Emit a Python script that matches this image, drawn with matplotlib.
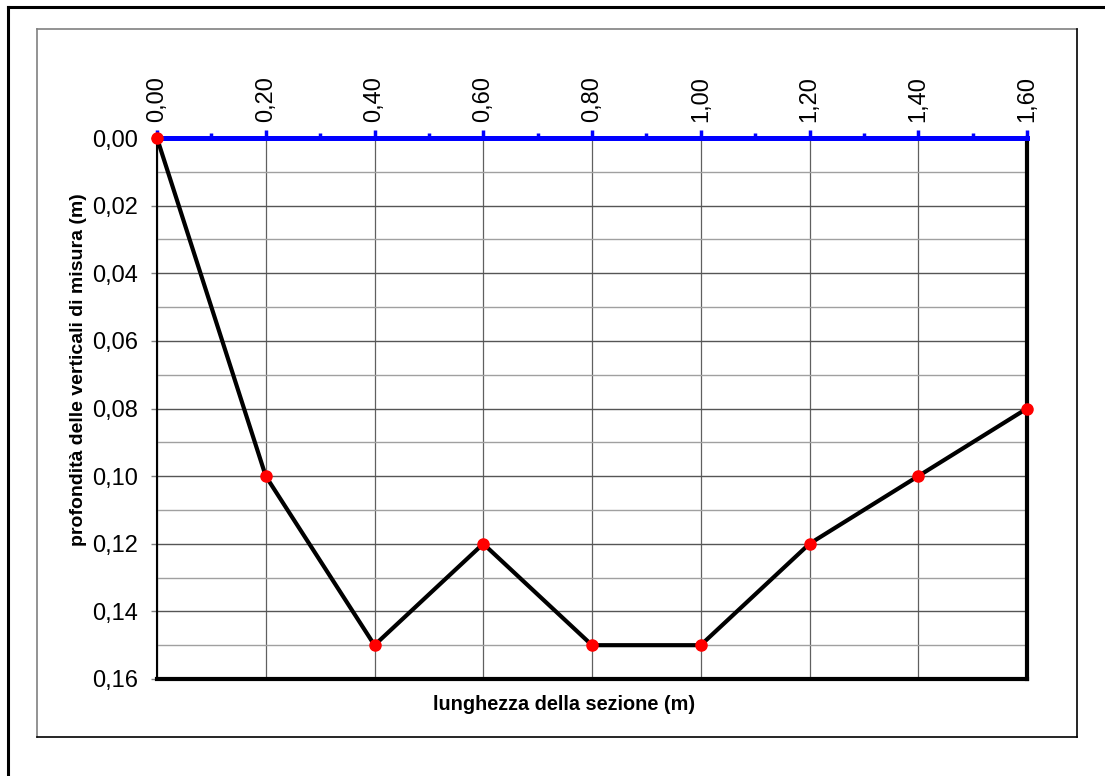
import matplotlib
matplotlib.use("Agg")
import matplotlib.pyplot as plt
from matplotlib.lines import Line2D
from matplotlib.ticker import MultipleLocator, FuncFormatter

plt.rcParams['font.family'] = ['Liberation Sans', 'DejaVu Sans']

x_vals = [0.0, 0.2, 0.4, 0.6, 0.8, 1.0, 1.2, 1.4, 1.6]
depth_vals = [0.0, 0.10, 0.15, 0.12, 0.15, 0.15, 0.12, 0.10, 0.08]
x_label = "lunghezza della sezione (m)"
y_label = "profondità delle verticali di misura (m)"

W, H = 1105, 776
fig = plt.figure(figsize=(W / 100, H / 100), dpi=100)

def fx(px):
    return px / W

def fy(py):
    return 1 - py / H

# outer border (only left and top visible)
fig.add_artist(Line2D([fx(8), fx(8)], [fy(7), 0], color='black', lw=2.2))
fig.add_artist(Line2D([fx(8), 1], [fy(7), fy(7)], color='black', lw=2.2))

# inner chart-area border
l, r, t, b = fx(37), fx(1077), fy(29), fy(737)
fig.add_artist(Line2D([l, l], [b, t], color='#808080', lw=1.2))
fig.add_artist(Line2D([l, r], [t, t], color='#808080', lw=1.2))
fig.add_artist(Line2D([r, r], [b, t], color='black', lw=1.2))
fig.add_artist(Line2D([l, r], [b, b], color='black', lw=1.2))

ax = fig.add_axes([fx(157), fy(679), fx(1027) - fx(157), fy(138) - fy(679)])
ax.set_xlim(0, 1.6)
ax.set_ylim(0.16, 0.0)

ax.xaxis.set_major_locator(MultipleLocator(0.2))
ax.xaxis.set_minor_locator(MultipleLocator(0.1))
ax.yaxis.set_major_locator(MultipleLocator(0.02))
ax.yaxis.set_minor_locator(MultipleLocator(0.01))
fmt = FuncFormatter(lambda v, p: f"{v:.2f}".replace('.', ','))
ax.xaxis.set_major_formatter(fmt)
ax.yaxis.set_major_formatter(fmt)

ax.xaxis.tick_top()
ax.tick_params(axis='x', which='major', direction='out', length=5.5, width=2.5,
               color='blue', labelsize=17, labelrotation=90, pad=6)
ax.tick_params(axis='x', which='minor', direction='out', length=3.8, width=2.5,
               color='blue')
ax.tick_params(axis='y', which='major', direction='out', length=4.5, width=1,
               color='#808080', labelsize=17, pad=9)
ax.tick_params(axis='y', which='minor', length=0)

ax.grid(axis='y', which='major', color='#555555', lw=1)
ax.grid(axis='y', which='minor', color='#a0a0a0', lw=1)
ax.grid(axis='x', which='major', color='#606060', lw=0.9)
ax.set_axisbelow(True)

ax.spines['top'].set_color('blue')
ax.spines['top'].set_linewidth(3.6)
ax.spines['top'].set_zorder(4)
ax.spines['left'].set_color('black')
ax.spines['left'].set_linewidth(1.5)
ax.spines['bottom'].set_color('black')
ax.spines['bottom'].set_linewidth(3)
ax.spines['right'].set_color('black')
ax.spines['right'].set_linewidth(3)

ax.plot(x_vals, depth_vals, color='black', lw=3, zorder=5, clip_on=False)
ax.plot(x_vals, depth_vals, linestyle='none', marker='o', markersize=8,
        color='red', zorder=6, clip_on=False)

fig.text(fx(564), fy(705), x_label, fontsize=14.3, fontweight='bold',
         ha='center', va='center')
fig.text(fx(79), fy(370), y_label, fontsize=14, fontweight='bold',
         ha='center', va='center', rotation=90)

fig.savefig("out.png", dpi=100)
